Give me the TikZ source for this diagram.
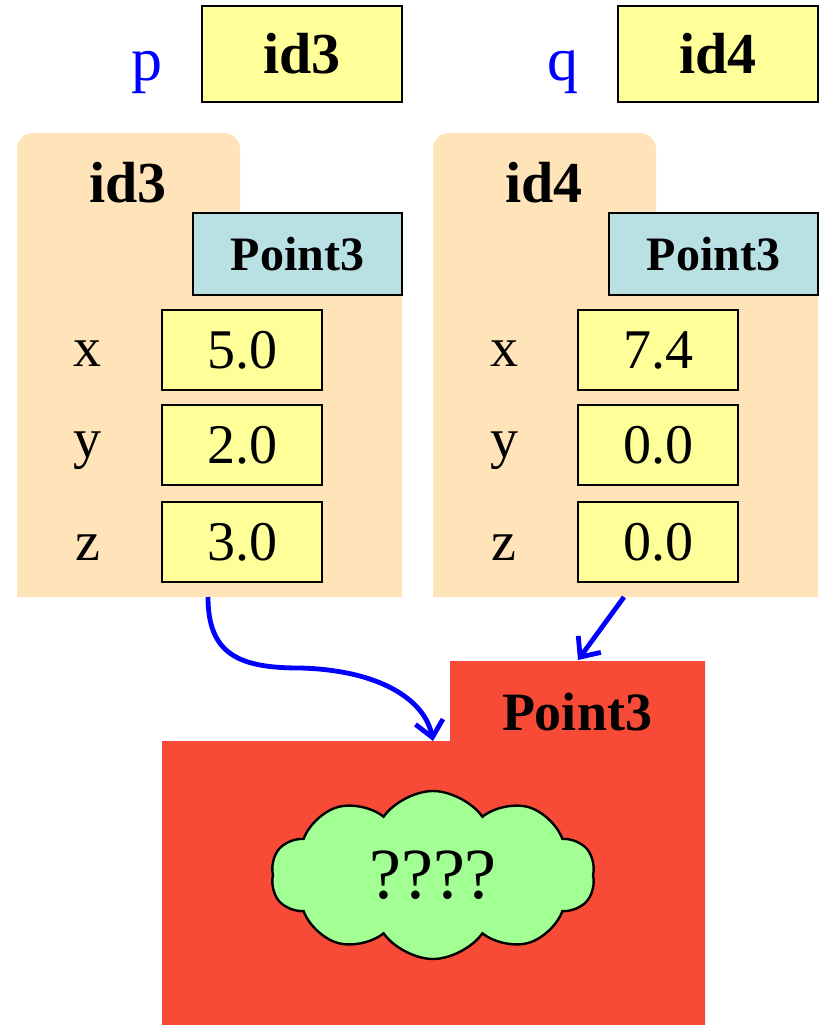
\documentclass[tikz,border=0pt]{standalone}
\usepackage{fontspec}
\setmainfont{Liberation Serif}
\usetikzlibrary{shapes.symbols,arrows.meta}
\definecolor{boxyellow}{HTML}{FFFF99}
\definecolor{foldertan}{HTML}{FFE3B9}
\definecolor{classblue}{HTML}{B9E0E3}
\definecolor{classred}{HTML}{F84B37}
\definecolor{cloudgreen}{HTML}{A2FF93}
\begin{document}
\begin{tikzpicture}[x=0.5pt,y=-0.5pt,
    idbox/.style={draw,fill=boxyellow,line width=1.3pt,minimum width=100pt,minimum height=48pt,inner sep=0pt,font=\fontsize{29}{29}\selectfont\bfseries},
    clsbox/.style={draw,fill=classblue,line width=1.3pt,minimum width=104.5pt,minimum height=41pt,inner sep=0pt,font=\fontsize{24}{24}\selectfont\bfseries},
    valbox/.style={draw,fill=boxyellow,line width=1.3pt,minimum width=80pt,minimum height=40pt,inner sep=0pt,font=\fontsize{28}{28}\selectfont},
    fld/.style={font=\fontsize{28}{28}\selectfont},
    ptr/.style={blue,line width=2.4pt,-{Straight Barb[length=8pt,width=14pt]}}]
    \useasboundingbox (0,0) rectangle (821,1025);

    % variables
    \node[fld,blue,font=\fontsize{31}{31}\selectfont] (p) at (147,72){p};
    \node[idbox] (pval) at (302,54){id3};
    \node[fld,blue,font=\fontsize{31}{31}\selectfont] (q) at (563,72){q};
    \node[idbox] (qval) at (718,54){id4};

    % folder id3
    \fill[foldertan,rounded corners=8pt] (17,597) -- (17,133) -- (240,133) -- (240,230) [sharp corners] -- (402,230) -- (402,597) -- cycle;
    \node[font=\fontsize{29}{29}\selectfont\bfseries] (fid3) at (128,183){id3};
    \node[clsbox] (cls3) at (297.5,254){Point3};
    \node[fld] (x3) at (88,354){x};
    \node[valbox] (x3v) at (242,350){5.0};
    \node[fld] (y3) at (88,451){y};
    \node[valbox] (y3v) at (242,445){2.0};
    \node[fld] (z3) at (88,548){z};
    \node[valbox] (z3v) at (242,542){3.0};

    % folder id4
    \fill[foldertan,rounded corners=8pt] (433,597) -- (433,133) -- (656,133) -- (656,230) [sharp corners] -- (818,230) -- (818,597) -- cycle;
    \node[font=\fontsize{29}{29}\selectfont\bfseries] (fid4) at (544,183){id4};
    \node[clsbox] (cls4) at (713.5,254){Point3};
    \node[fld] (x4) at (504,354){x};
    \node[valbox] (x4v) at (658,350){7.4};
    \node[fld] (y4) at (504,451){y};
    \node[valbox] (y4v) at (658,445){0.0};
    \node[fld] (z4) at (504,548){z};
    \node[valbox] (z4v) at (658,542){0.0};

    % class folder
    \fill[classred] (162,741) -- (450,741) -- (450,661) -- (705,661) -- (705,1025) -- (162,1025) -- cycle;
    \node[font=\fontsize{27}{27}\selectfont\bfseries] (cls) at (577,712){Point3};
    \node[cloud,cloud puffs=10,cloud puff arc=110,aspect=2,draw,line width=1.2pt,fill=cloudgreen,
          minimum width=162pt,minimum height=84pt,inner sep=0pt,font=\fontsize{36}{36}\selectfont] (body) at (433,875){????};

    \coordinate (src3) at (208,597);
    \coordinate (tgt3) at (433,741);
    \coordinate (src4) at (624,597);
    \coordinate (tgt4) at (578,660);
    \draw[ptr] (src3) .. controls (208,655) and (240,668) .. (300,668) .. controls (380,670) and (425,700) .. (tgt3);
    \draw[ptr] (src4) -- (tgt4);
\end{tikzpicture}
\end{document}
